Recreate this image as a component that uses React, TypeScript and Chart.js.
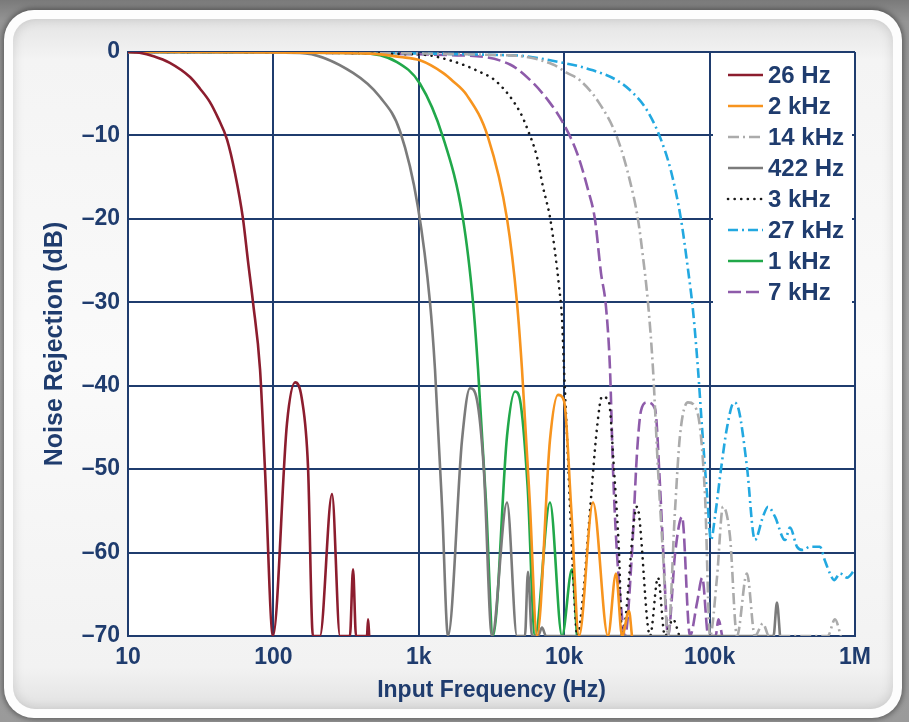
import React, { useEffect, useRef } from "react";
import { Chart, registerables } from "chart.js";

Chart.register(...registerables);

// ---- axis ticks ----
const xTickValues = [10, 100, 1000, 10000, 100000, 1000000];
const xTickLabels = ["10", "100", "1k", "10k", "100k", "1M"];
const yTickValues = [0, -10, -20, -30, -40, -50, -60, -70];
const yTickLabels = ["0", "–10", "–20", "–30", "–40", "–50", "–60", "–70"];

// ---- series (frequency in Hz, rejection in dB) ----
const f26 = [10, 12, 15, 19.4, 26.7, 31.3, 36.6, 41.6, 48, 54.4, 61.8, 66.8, 72.4, 80.9, 87.5, 99.3, 124, 141, 157, 173, 187, 209, 253, 287, 336, 353, 370, 440, 448, 456];
const db26 = [0, -0.1, -0.5, -1.3, -3, -4.4, -6, -7.9, -10.5, -14.5, -20, -25, -30, -38, -50, -70, -44.5, -39.6, -41.6, -49.7, -70, -70, -53, -70, -70, -62, -70, -70, -68, -70];

const f2k = [10, 469, 743, 1019, 1466, 1718, 2144, 2991, 4045, 4733, 5124, 5800, 6503, 7984, 9060, 9970, 11200, 12650, 15780, 20000, 22700, 25000, 27900, 29250];
const db2k = [0, -0.2, -0.6, -1, -2.5, -3.5, -5.2, -10.2, -20, -30, -38, -54, -70, -46.5, -41.1, -41.8, -55, -70, -54, -70, -62.5, -70, -67, -70];

const f14k = [10, 4240, 8380, 10450, 12850, 17070, 23070, 28370, 32200, 34840, 37680, 40800, 44160, 47750, 51750, 57800, 62550, 70960, 81850, 92900, 100700, 112400, 123600, 138000, 154300, 180600, 205000, 232800, 256200, 650000, 728000, 800000];
const db14k = [0, -0.4, -1.5, -2.5, -3.4, -5.9, -10.2, -15.5, -20.1, -24.6, -30, -38, -50, -60, -70, -55, -46, -42, -43, -53, -70, -63, -54.5, -58, -70, -62.5, -70, -68.5, -70, -70, -68, -70];

const f422 = [10, 152, 353, 541, 743, 987, 1194, 1292, 1450, 1588, 1983, 2250, 2512, 2800, 3185, 4045, 4733, 5370, 5635, 6006, 6600, 7038, 7500, 275000, 290500, 305000];
const db422 = [0, -0.1, -2.5, -5.4, -9.5, -18.6, -30, -38, -55, -70, -46.5, -40.3, -41.7, -50, -70, -54, -70, -70, -62.3, -70, -70, -69, -70, -70, -66, -70];

const f3k = [10, 1019, 1640, 2637, 3451, 4967, 5635, 6503, 7150, 7984, 8650, 9204, 9659, 9970, 10450, 11000, 11700, 12300, 13500, 15040, 16820, 18200, 20320, 21990, 23820, 25000, 31690, 38930, 44160, 49300, 56000, 62000];
const db3k = [0, -0.3, -1, -2.4, -3.6, -7.2, -9.4, -12.6, -16.2, -19.8, -24, -28, -32, -38, -46, -55, -65, -70, -65, -55, -45, -41.3, -42, -50, -60, -70, -54.5, -70, -63, -70, -68, -70];

const f27k = [10, 4440, 9820, 15780, 23070, 29700, 37150, 45600, 54300, 63500, 70960, 76900, 83200, 88700, 96000, 102300, 108900, 119800, 131800, 147200, 159200, 180600, 205000, 232800, 252200, 281600, 329800, 357200, 399000, 438600, 489800, 574000, 622000, 673000, 718000, 789000, 881000, 1000000];
const db27k = [0, -0.4, -1.3, -2.2, -3.4, -4.9, -7, -10.2, -14.3, -20, -26, -31, -38, -45, -53, -58.5, -55.7, -50, -45, -42, -43, -49.7, -58.5, -55.7, -54.5, -55.7, -58.5, -57, -59.3, -59.7, -59.3, -59.3, -61, -62.5, -63.3, -62.5, -63, -62];

const f1k = [10, 394, 708, 1019, 1466, 2013, 2360, 2555, 2900, 3238, 4045, 4589, 4967, 5600, 6297, 7984, 9659, 11320, 12250];
const db1k = [0, -0.1, -1.2, -3.8, -10.2, -20, -30, -38, -54, -70, -46, -40.7, -41.7, -52, -70, -54, -70, -62, -70];

const f7k = [10, 1832, 4240, 6100, 7984, 9820, 12250, 14580, 16290, 17910, 19370, 20650, 21660, 22700, 24200, 26190, 29250, 31690, 33740, 37150, 42170, 45600, 48650, 51750, 58000, 64600, 73300, 82000, 89000, 98000, 110000, 115000, 122000];
const db7k = [0, -0.4, -1.5, -3.7, -6.1, -8.5, -12.1, -16.5, -20.1, -26.5, -30.5, -38, -50, -58, -65, -70, -60, -48, -43, -42, -42.8, -52, -62, -70, -60, -55.7, -70, -66, -63, -70, -70, -68, -70];

const seriesLabels = ["26 Hz", "2 kHz", "14 kHz", "422 Hz", "3 kHz", "27 kHz", "1 kHz", "7 kHz"];
const seriesFreqs = [f26, f2k, f14k, f422, f3k, f27k, f1k, f7k];
const seriesDb = [db26, db2k, db14k, db422, db3k, db27k, db1k, db7k];

// ---- styles ----
const NAVY = "#1F3C6E";
const FONT = "'Liberation Sans', Arial, Helvetica, sans-serif";
const seriesStyles = [
  { color: "#8C1D2E", dash: [] as number[], cap: "butt" },
  { color: "#F7941E", dash: [] as number[], cap: "butt" },
  { color: "#ABABAB", dash: [11, 4, 2, 4], cap: "butt" },
  { color: "#7B7B7B", dash: [] as number[], cap: "butt" },
  { color: "#1A1A1A", dash: [0.1, 6.5], cap: "round" },
  { color: "#22A8E0", dash: [10, 4, 2, 4], cap: "butt" },
  { color: "#21A84A", dash: [] as number[], cap: "butt" },
  { color: "#8E5BAA", dash: [13, 5], cap: "butt" },
];

const plotBackground = {
  id: "plotBackground",
  beforeDraw(chart: any) {
    const { ctx, chartArea } = chart;
    ctx.save();
    ctx.fillStyle = "#ffffff";
    ctx.fillRect(chartArea.left, chartArea.top, chartArea.right - chartArea.left, chartArea.bottom - chartArea.top);
    ctx.restore();
  },
};

const insideLegend = {
  id: "insideLegend",
  beforeDatasetsDraw(chart: any) {
    const { ctx, chartArea } = chart;
    const boxLeft = chartArea.right - 142;
    const boxTop = chartArea.top + 3;
    ctx.save();
    ctx.fillStyle = "#ffffff";
    ctx.fillRect(boxLeft, boxTop, 139, 254);
    chart.data.datasets.forEach((ds: any, i: number) => {
      const y = chartArea.top + 23 + i * 31;
      ctx.beginPath();
      ctx.strokeStyle = ds.borderColor;
      ctx.lineWidth = ds.borderWidth;
      ctx.lineCap = ds.borderCapStyle;
      ctx.setLineDash(ds.borderDash || []);
      ctx.moveTo(boxLeft + 15, y);
      ctx.lineTo(boxLeft + 50, y);
      ctx.stroke();
      ctx.setLineDash([]);
      ctx.fillStyle = NAVY;
      ctx.font = `bold 24px ${FONT}`;
      ctx.textBaseline = "middle";
      ctx.textAlign = "left";
      ctx.fillText(ds.label, boxLeft + 55, y + 1);
    });
    ctx.restore();
  },
};

export default function App() {
  const ref = useRef<HTMLCanvasElement>(null);

  useEffect(() => {
    const datasets = seriesLabels.map((label, i) => ({
      label,
      data: seriesFreqs[i].map((x, j) => ({ x, y: seriesDb[i][j] })),
      borderColor: seriesStyles[i].color,
      backgroundColor: seriesStyles[i].color,
      borderWidth: 2.6,
      borderDash: seriesStyles[i].dash,
      borderCapStyle: seriesStyles[i].cap,
      pointRadius: 0,
      cubicInterpolationMode: "monotone" as const,
      fill: false,
    }));

    const chart = new Chart(ref.current as HTMLCanvasElement, {
      type: "line",
      data: { datasets },
      plugins: [plotBackground, insideLegend],
      options: {
        animation: false,
        responsive: false,
        devicePixelRatio: 1,
        layout: { padding: { left: 0, top: 52, right: 54, bottom: 0 } },
        plugins: { legend: { display: false }, tooltip: { enabled: false } },
        scales: {
          x: {
            type: "logarithmic",
            min: 10,
            max: 1000000,
            afterBuildTicks: (scale: any) => {
              scale.ticks = xTickValues.map((value) => ({ value }));
            },
            afterFit: (scale: any) => {
              scale.height = 86;
            },
            ticks: {
              autoSkip: false,
              maxRotation: 0,
              padding: 8,
              color: NAVY,
              font: { family: FONT, size: 23, weight: "bold" },
              callback: (_v: any, index: number) => xTickLabels[index],
            },
            grid: { color: NAVY, lineWidth: 2, drawTicks: false },
            border: { display: true, color: NAVY, width: 2 },
            title: {
              display: true,
              text: "Input Frequency (Hz)",
              color: NAVY,
              font: { family: FONT, size: 23, weight: "bold" },
              padding: { top: 0, bottom: 18 },
            },
          },
          y: {
            type: "linear",
            min: -70,
            max: 0,
            afterBuildTicks: (scale: any) => {
              scale.ticks = yTickValues.map((value) => ({ value }));
            },
            afterFit: (scale: any) => {
              scale.width = 128;
            },
            ticks: {
              autoSkip: false,
              padding: 8,
              color: NAVY,
              font: { family: FONT, size: 23, weight: "bold" },
              callback: (_v: any, index: number) => yTickLabels[index],
            },
            grid: { color: NAVY, lineWidth: 2, drawTicks: false },
            border: { display: true, color: NAVY, width: 2 },
            title: {
              display: true,
              text: "Noise Rejection (dB)",
              color: NAVY,
              font: { family: FONT, size: 25, weight: "bold" },
              padding: { top: 40, bottom: 0 },
            },
          },
        },
      } as any,
    });
    return () => chart.destroy();
  }, []);

  return (
    <div
      style={{
        position: "absolute",
        left: 0,
        top: 0,
        width: 909,
        height: 722,
        overflow: "hidden",
        background: "linear-gradient(180deg, #7a7a7a 0%, #959595 3%, #a6a6a6 50%, #9a9a9a 100%)",
      }}
    >
      <div
        style={{
          position: "absolute",
          left: 4,
          top: 10,
          width: 898,
          height: 708,
          borderRadius: 30,
          background: "#fdfdfd",
          boxShadow: "0 0 5px 2px rgba(0,0,0,0.35)",
        }}
      >
        <div
          style={{
            position: "absolute",
            left: 9,
            top: 9,
            right: 9,
            bottom: 9,
            borderRadius: 22,
            background: "linear-gradient(180deg, #e4e4e4 0%, #f4f4f4 6%, #fafafa 50%, #f2f2f2 94%, #e2e2e2 100%)",
            boxShadow: "inset 0 0 12px rgba(0,0,0,0.14)",
          }}
        />
      </div>
      <canvas
        ref={ref}
        width={909}
        height={722}
        style={{ position: "absolute", left: 0, top: 0, width: 909, height: 722 }}
      />
    </div>
  );
}
